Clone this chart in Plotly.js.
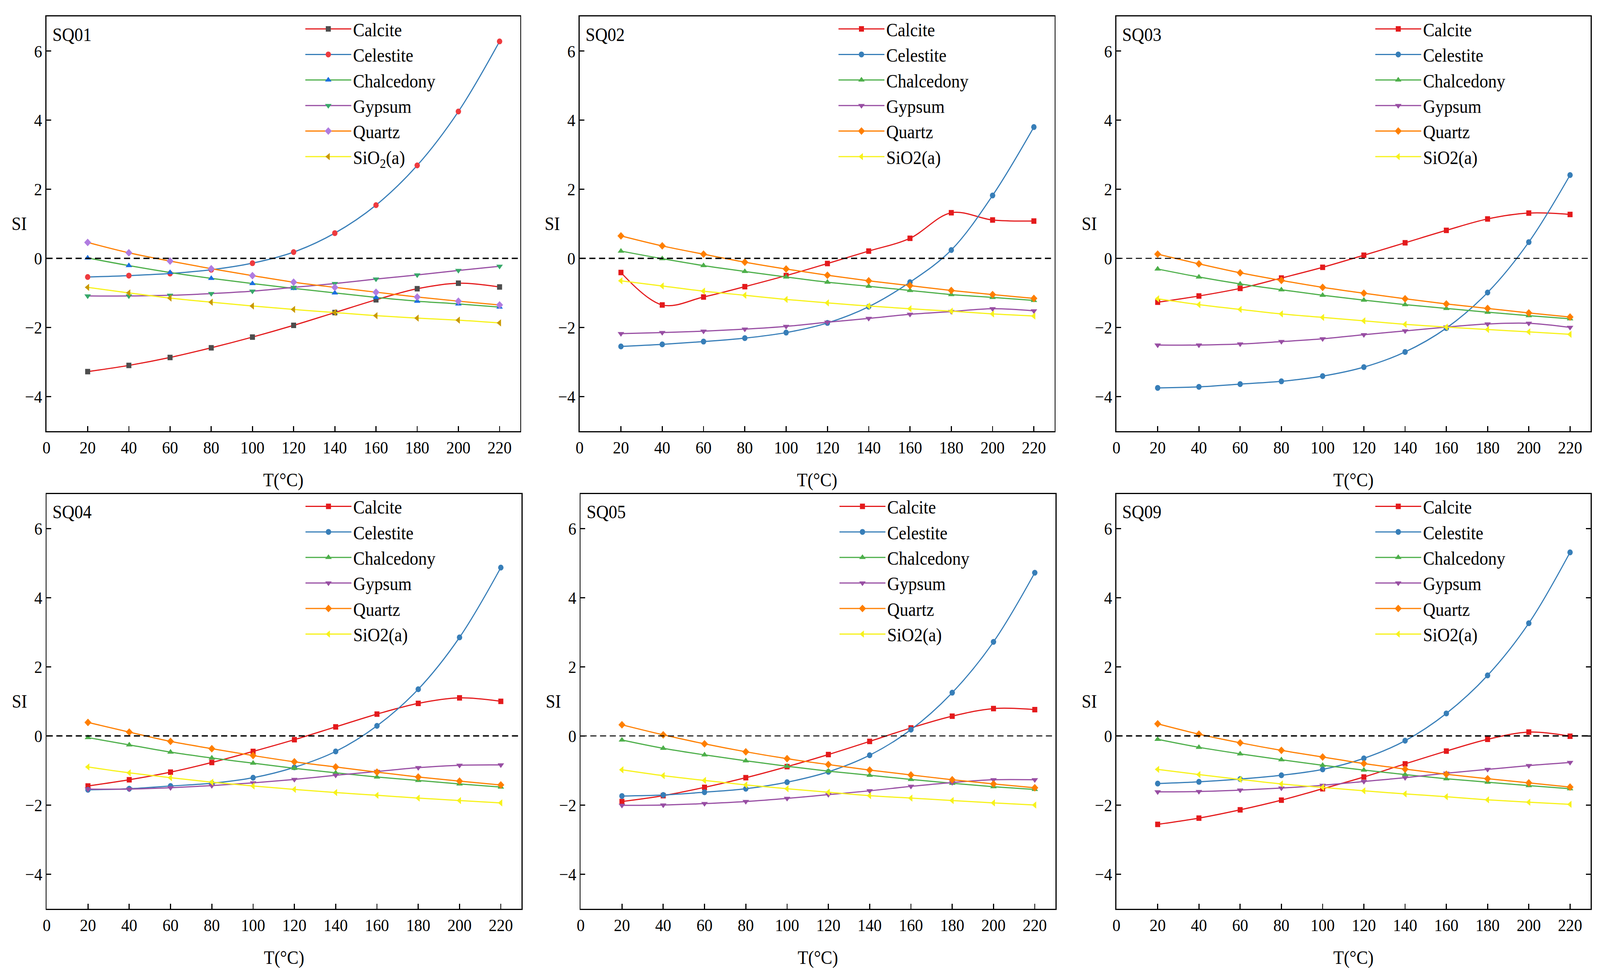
<!DOCTYPE html>
<html>
<head>
<meta charset="utf-8">
<script src="https://cdn.plot.ly/plotly-3.0.1.min.js"></script>
<style>html,body{margin:0;padding:0;background:#fff;overflow:hidden;}#chart{width:4457px;height:2499px;transform-origin:0 0;}</style>
</head>
<body>
<div id="chart"></div>
<script>
// Temperature (°C)
const temperature = [20, 40, 60, 80, 100, 120, 140, 160, 180, 200, 220];
const mineralNames = ['Calcite', 'Celestite', 'Chalcedony', 'Gypsum', 'Quartz', 'SiO2(a)'];
const panelLabels = ['SQ01', 'SQ02', 'SQ03', 'SQ04', 'SQ05', 'SQ09'];
const xTickVals = [0, 20, 40, 60, 80, 100, 120, 140, 160, 180, 200, 220];
const yTickVals = [-4, -2, 0, 2, 4, 6];

// SQ01
const sq01Calcite    = [-3.28, -3.10, -2.87, -2.59, -2.28, -1.94, -1.57, -1.20, -0.88, -0.72, -0.83];
const sq01Celestite  = [-0.54, -0.50, -0.44, -0.33, -0.14, 0.18, 0.73, 1.54, 2.69, 4.25, 6.28];
const sq01Chalcedony = [0.01, -0.21, -0.41, -0.58, -0.73, -0.87, -1.00, -1.13, -1.24, -1.32, -1.41];
const sq01Gypsum     = [-1.09, -1.09, -1.07, -1.02, -0.95, -0.84, -0.73, -0.60, -0.48, -0.35, -0.23];
const sq01Quartz     = [0.46, 0.16, -0.08, -0.30, -0.50, -0.69, -0.84, -0.98, -1.12, -1.24, -1.35];
const sq01SiO2a      = [-0.84, -1.00, -1.15, -1.27, -1.38, -1.48, -1.57, -1.66, -1.73, -1.79, -1.87];
// SQ02
const sq02Calcite    = [-0.41, -1.35, -1.12, -0.82, -0.50, -0.15, 0.21, 0.58, 1.32, 1.11, 1.08];
const sq02Celestite  = [-2.55, -2.49, -2.41, -2.31, -2.15, -1.87, -1.40, -0.69, 0.24, 1.82, 3.80];
const sq02Chalcedony = [0.21, -0.01, -0.21, -0.38, -0.54, -0.69, -0.81, -0.93, -1.05, -1.13, -1.22];
const sq02Gypsum     = [-2.18, -2.15, -2.11, -2.05, -1.97, -1.85, -1.74, -1.62, -1.54, -1.46, -1.52];
const sq02Quartz     = [0.65, 0.36, 0.12, -0.11, -0.31, -0.49, -0.65, -0.79, -0.93, -1.05, -1.16];
const sq02SiO2a      = [-0.65, -0.80, -0.95, -1.07, -1.19, -1.29, -1.38, -1.46, -1.53, -1.61, -1.67];
// SQ03
const sq03Calcite    = [-1.27, -1.09, -0.87, -0.57, -0.26, 0.09, 0.45, 0.81, 1.14, 1.31, 1.27];
const sq03Celestite  = [-3.75, -3.72, -3.64, -3.56, -3.41, -3.15, -2.71, -2.02, -0.99, 0.47, 2.41];
const sq03Chalcedony = [-0.31, -0.54, -0.74, -0.91, -1.07, -1.21, -1.34, -1.45, -1.56, -1.66, -1.75];
const sq03Gypsum     = [-2.51, -2.51, -2.48, -2.41, -2.33, -2.21, -2.10, -1.99, -1.90, -1.88, -2.00];
const sq03Quartz     = [0.12, -0.16, -0.42, -0.64, -0.84, -1.01, -1.17, -1.32, -1.45, -1.58, -1.70];
const sq03SiO2a      = [-1.17, -1.34, -1.48, -1.61, -1.71, -1.81, -1.91, -1.99, -2.06, -2.13, -2.20];
// SQ04
const sq04Calcite    = [-1.45, -1.27, -1.05, -0.77, -0.45, -0.11, 0.26, 0.63, 0.94, 1.10, 1.00];
const sq04Celestite  = [-1.56, -1.53, -1.45, -1.37, -1.21, -0.91, -0.45, 0.29, 1.35, 2.85, 4.87];
const sq04Chalcedony = [-0.05, -0.26, -0.47, -0.64, -0.79, -0.94, -1.07, -1.19, -1.29, -1.39, -1.48];
const sq04Gypsum     = [-1.54, -1.54, -1.50, -1.44, -1.36, -1.26, -1.14, -1.03, -0.92, -0.85, -0.84];
const sq04Quartz     = [0.39, 0.11, -0.16, -0.37, -0.57, -0.75, -0.90, -1.05, -1.19, -1.31, -1.42];
const sq04SiO2a      = [-0.90, -1.07, -1.21, -1.34, -1.45, -1.55, -1.64, -1.72, -1.80, -1.87, -1.94];
// SQ05
const sq05Calcite    = [-1.90, -1.73, -1.49, -1.21, -0.89, -0.54, -0.16, 0.23, 0.57, 0.79, 0.76];
const sq05Celestite  = [-1.74, -1.71, -1.63, -1.53, -1.34, -1.04, -0.56, 0.18, 1.25, 2.72, 4.72];
const sq05Chalcedony = [-0.12, -0.36, -0.55, -0.72, -0.88, -1.02, -1.14, -1.26, -1.37, -1.47, -1.55];
const sq05Gypsum     = [-2.01, -2.00, -1.96, -1.90, -1.81, -1.70, -1.59, -1.46, -1.35, -1.27, -1.27];
const sq05Quartz     = [0.32, 0.03, -0.23, -0.46, -0.66, -0.83, -0.99, -1.13, -1.27, -1.39, -1.50];
const sq05SiO2a      = [-0.98, -1.15, -1.29, -1.42, -1.53, -1.63, -1.73, -1.80, -1.87, -1.94, -2.00];
// SQ09
const sq09Calcite    = [-2.56, -2.38, -2.14, -1.86, -1.53, -1.19, -0.81, -0.44, -0.10, 0.11, -0.01];
const sq09Celestite  = [-1.38, -1.33, -1.25, -1.14, -0.97, -0.65, -0.14, 0.65, 1.75, 3.26, 5.31];
const sq09Chalcedony = [-0.10, -0.33, -0.52, -0.69, -0.85, -0.99, -1.12, -1.24, -1.34, -1.44, -1.53];
const sq09Gypsum     = [-1.62, -1.61, -1.57, -1.51, -1.43, -1.32, -1.21, -1.08, -0.97, -0.86, -0.77];
const sq09Quartz     = [0.35, 0.05, -0.20, -0.42, -0.61, -0.80, -0.96, -1.11, -1.24, -1.36, -1.48];
const sq09SiO2a      = [-0.97, -1.12, -1.26, -1.39, -1.49, -1.59, -1.68, -1.76, -1.85, -1.92, -1.98];

const panelSeries = [
  [sq01Calcite, sq01Celestite, sq01Chalcedony, sq01Gypsum, sq01Quartz, sq01SiO2a],
  [sq02Calcite, sq02Celestite, sq02Chalcedony, sq02Gypsum, sq02Quartz, sq02SiO2a],
  [sq03Calcite, sq03Celestite, sq03Chalcedony, sq03Gypsum, sq03Quartz, sq03SiO2a],
  [sq04Calcite, sq04Celestite, sq04Chalcedony, sq04Gypsum, sq04Quartz, sq04SiO2a],
  [sq05Calcite, sq05Celestite, sq05Chalcedony, sq05Gypsum, sq05Quartz, sq05SiO2a],
  [sq09Calcite, sq09Celestite, sq09Chalcedony, sq09Gypsum, sq09Quartz, sq09SiO2a]
];

// styles
const lineColors = ['#e41a1c', '#377eb8', '#4daf4a', '#984ea3', '#ff7f00', '#f7f21a'];
const sq01MarkerColors = ['#4d4d4d', '#ee3b3f', '#1a6fe0', '#38a86a', '#b07ce0', '#c99800'];
const symbols = ['square', 'circle', 'triangle-up', 'triangle-down', 'diamond', 'triangle-left'];
const markerSizes = [14, 15, 16, 16, 15, 16];
const zeroLineWidths = [3.5, 3.5, 2.5, 3.5, 2.5, 3.5];

const FONT = 'Liberation Serif, Times New Roman, serif';
const FS = 45;      // tick labels
const FS_LEG = 48;  // legend + titles
const W = 4457, H = 2499;
// plot areas in pixels [left, right, top, bottom]
const boxes = [
  [129.5, 1449, 42.3, 1103.7],
  [1614.7, 2937.5, 42.3, 1103.7],
  [3110, 4431, 42.3, 1103.7],
  [130, 1452.6, 1264.8, 2326.6],
  [1617.5, 2940, 1264.8, 2326.6],
  [3110, 4431, 1264.8, 2326.6]
];

const traces = [];
const layout = {
  width: W, height: H,
  margin: {l: 0, r: 0, t: 0, b: 0},
  paper_bgcolor: '#fff', plot_bgcolor: '#fff',
  font: {family: FONT, size: FS, color: '#000'},
  shapes: [], annotations: []
};

panelSeries.forEach((series, p) => {
  const n = p + 1;
  const sfx = n === 1 ? '' : String(n);
  const xa = 'x' + sfx, ya = 'y' + sfx;
  const lg = 'legend' + sfx;
  series.forEach((vals, i) => {
    let name = mineralNames[i];
    if (p === 0 && i === 5) name = 'SiO<sub>2</sub>(a)';
    traces.push({
      type: 'scatter', mode: 'lines+markers',
      x: temperature, y: vals,
      xaxis: xa, yaxis: ya, legend: lg,
      name: name, legendgroup: 'g' + n + '_' + i,
      line: {color: lineColors[i], width: 3, shape: 'spline', smoothing: 1},
      marker: {symbol: symbols[i], size: markerSizes[i],
               color: p === 0 ? sq01MarkerColors[i] : lineColors[i], line: {width: 0}}
    });
  });
  const b = boxes[p];
  const bw = b[1] - b[0], bh = b[3] - b[2];
  const axCommon = {
    showgrid: false, zeroline: false, showline: true, linecolor: '#000', linewidth: 3,
    mirror: true, ticks: 'inside', ticklen: 13, tickwidth: 3, tickcolor: '#000',
    tickfont: {family: FONT, size: FS, color: '#000'}
  };
  layout['xaxis' + sfx] = Object.assign({}, axCommon, {
    domain: [b[0] / W, b[1] / W], anchor: ya, range: [0, 230],
    tickmode: 'array', tickvals: xTickVals, ticktext: xTickVals.map(String)
  });
  layout['yaxis' + sfx] = Object.assign({}, axCommon, {
    domain: [1 - b[3] / H, 1 - b[2] / H], anchor: xa, range: [-5, 7],
    tickmode: 'array', tickvals: yTickVals,
    ticktext: yTickVals.map(v => v < 0 ? '\u2212' + Math.abs(v) : String(v)),
    mirror: p === 5 ? 'ticks' : true
  });
  layout[lg] = {
    x: (b[0] + 716) / W, xanchor: 'left',
    y: 1 - (b[2] - 6) / H, yanchor: 'top',
    bgcolor: 'rgba(0,0,0,0)', borderwidth: 0,
    font: {family: FONT, size: FS_LEG, color: '#000'},
    itemwidth: 128, tracegroupgap: 8, traceorder: 'normal'
  };
  layout.shapes.push({
    type: 'line', xref: xa + ' domain', yref: ya, x0: 0, x1: 1, y0: 0, y1: 0,
    line: {color: '#000', width: zeroLineWidths[p], dash: '17px,10px'}
  });
  layout.annotations.push({
    xref: xa + ' domain', yref: ya + ' domain', x: 14 / bw, y: 1 - 46 / bh,
    xanchor: 'left', yanchor: 'middle', showarrow: false, text: panelLabels[p],
    font: {family: FONT, size: FS_LEG, color: '#000'}
  });
  layout.annotations.push({
    xref: xa + ' domain', yref: ya + ' domain', x: -76 / bw, y: 0.5,
    xanchor: 'center', yanchor: 'middle', showarrow: false, text: 'SI',
    font: {family: FONT, size: FS_LEG, color: '#000'}
  });
  layout.annotations.push({
    xref: xa + ' domain', yref: ya + ' domain', x: 0.5, y: -125 / bh,
    xanchor: 'center', yanchor: 'middle', showarrow: false, text: 'T(°C)',
    font: {family: FONT, size: FS_LEG, color: '#000'}
  });
});

// fit the 4457x2499 drawing into the actual window
const chartDiv = document.getElementById('chart');
const sx = (window.innerWidth || W) / W, sy = (window.innerHeight || H) / H;
if (Math.abs(sx - 1) > 0.002 || Math.abs(sy - 1) > 0.002) {
  chartDiv.style.transform = 'scale(' + sx + ',' + sy + ')';
}

Plotly.newPlot('chart', traces, layout, {staticPlot: true, displayModeBar: false});
</script>
</body>
</html>
